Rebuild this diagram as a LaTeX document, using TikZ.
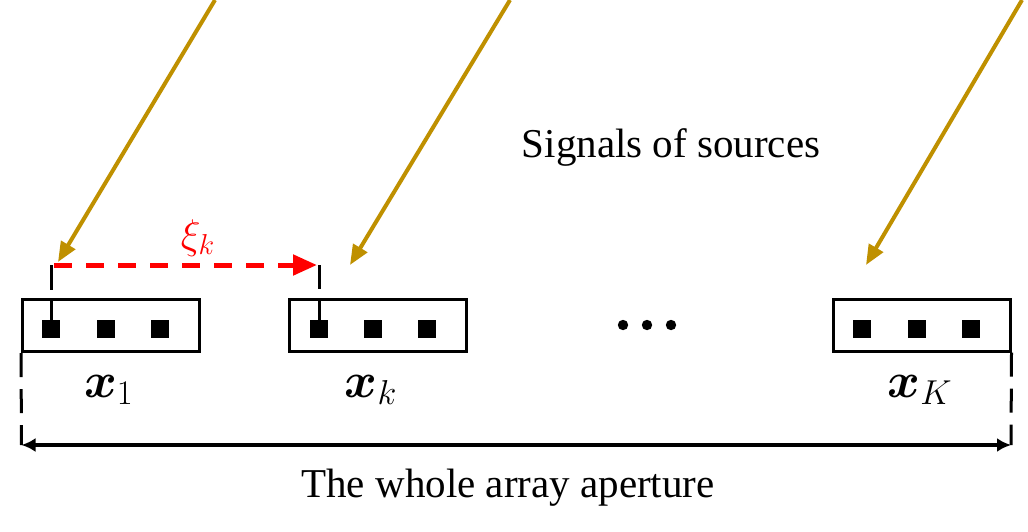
\documentclass[tikz,border=0pt]{standalone}
\usepackage{amsmath,amssymb,bm}
\usepackage{fontspec}
\setmainfont{Liberation Serif}
\usetikzlibrary{arrows.meta}
\definecolor{srcgold}{RGB}{191,144,0}

\begin{document}
\begin{tikzpicture}[x=0.5pt,y=-0.5pt]
   \tikzset{
     subarray/.style={draw,line width=1.5pt,minimum width=88.5pt,minimum height=26pt,inner sep=0pt},
     sensor/.style={fill=black,minimum size=9pt,inner sep=0pt},
     signal/.style={draw=srcgold,line width=2pt,-{Triangle[length=10pt,width=8pt]}},
     veclabel/.style={font=\fontsize{24}{28}\selectfont,anchor=base},
     txtlabel/.style={font=\fontsize{20.5}{24}\selectfont,anchor=base},
   }
   \useasboundingbox (0,0) rectangle (1028,531);
   % sub-arrays
   \node[subarray] (box1) at (111,325.5) {};
   \node[subarray] (boxk) at (378,325.5) {};
   \node[subarray] (boxK) at (921.5,325) {};
   % sensors
   \node[sensor] (s11) at (51,328.5) {};
   \node[sensor] (s12) at (106,328.5) {};
   \node[sensor] (s13) at (160,328.5) {};
   \node[sensor] (sk1) at (319,328.5) {};
   \node[sensor] (sk2) at (373,328.5) {};
   \node[sensor] (sk3) at (427,328.5) {};
   \node[sensor] (sK1) at (862,328.5) {};
   \node[sensor] (sK2) at (917,328.5) {};
   \node[sensor] (sK3) at (971,328.5) {};
   % reference ticks
   \draw[line width=1.5pt] (s11.center) -- (s11 |- box1.north);
   \draw[line width=1.5pt] (sk1.center) -- (sk1 |- boxk.north);
   \coordinate (t1a) at (51,265);
   \coordinate (t1b) at (51,290);
   \coordinate (tka) at (319,265);
   \coordinate (tkb) at (319,289);
   \draw[line width=1.5pt] (t1a) -- (t1b);
   \draw[line width=1.5pt] (tka) -- (tkb);
   % shift between sub-arrays
   \draw[red,line width=2.5pt,dash pattern=on 9pt off 7pt,shorten <=1.5pt,shorten >=1pt,
         -{Triangle[length=12pt,width=10pt]}] (t1a) -- (tka);
   \node[red,font=\fontsize{22}{26}\selectfont] (xi) at (198,238) {$\xi_k$};
   % incoming signals
   \coordinate (src1) at (215,0);
   \coordinate (src2) at (510,0);
   \coordinate (src3) at (1022,0);
   \coordinate (hit1) at (58,262);
   \coordinate (hit2) at (350,265);
   \coordinate (hit3) at (866,265);
   \draw[signal] (src1) -- (hit1);
   \draw[signal] (src2) -- (hit2);
   \draw[signal] (src3) -- (hit3);
   \node[txtlabel] (sig) at (671,157) {Signals of sources};
   % dots
   \fill (623,325) circle (2.6pt);
   \fill (647,325) circle (2.6pt);
   \fill (671,325) circle (2.6pt);
   % labels
   \node[veclabel] (lab1) at (109,397) {$\bm{x}_1$};
   \node[veclabel] (labk) at (371,397) {$\bm{x}_k$};
   \node[veclabel] (labK) at (920,397) {$\bm{x}_K$};
   % whole aperture
   \coordinate (apL) at (21.5,445);
   \coordinate (apR) at (1011,445);
   \draw[line width=1.5pt,dash pattern=on 12pt off 6pt] (box1.south west) -- (apL);
   \draw[line width=1.5pt,dash pattern=on 12pt off 6pt] (boxK.south east) -- (apR);
   \draw[line width=2pt,{Latex[length=7pt,width=7pt]}-{Latex[length=7pt,width=7pt]}] (apL) -- (apR);
   \node[txtlabel] (ap) at (508,497) {The whole array aperture};
\end{tikzpicture}
\end{document}
